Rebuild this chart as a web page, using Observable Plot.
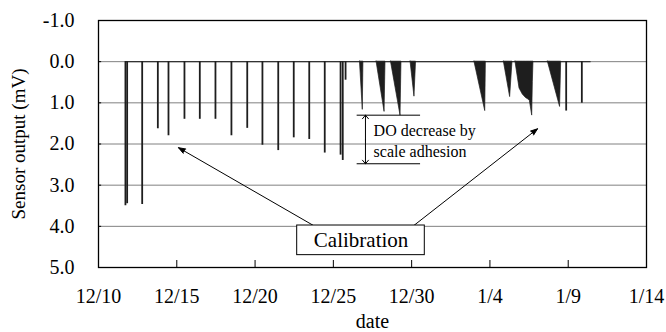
<!DOCTYPE html>
<html>
<head>
<meta charset="utf-8">
<script src="https://cdn.jsdelivr.net/npm/d3@7"></script>
<script src="https://cdn.jsdelivr.net/npm/@observablehq/plot@0.6"></script>
<style>
  body { margin: 0; background: #fff; }
  #chart svg { display: block; }
</style>
</head>
<body>
<div id="chart"></div>
<script>
// ---- data (days after 12/10) ----
const xTickDays = [0, 5, 10, 15, 20, 25, 30, 35];
const xTickLabels = ["12/10", "12/15", "12/20", "12/25", "12/30", "1/4", "1/9", "1/14"];
const yTicks = [-1, 0, 1, 2, 3, 4, 5];
const yTickLabels = ["-1.0", "0.0", "1.0", "2.0", "3.0", "4.0", "5.0"];

// single calibration spikes
const spikeDay   = [1.72, 1.83, 2.79, 3.79, 4.47, 5.49, 6.47, 7.47, 8.49, 9.50, 10.47, 11.48, 12.47, 13.46, 14.45, 15.46, 15.60, 15.78, 29.87, 30.87];
const spikeValue = [3.50, 3.45, 3.47, 1.63, 1.80, 1.40, 1.40, 1.40, 1.80, 1.62, 2.03, 2.16, 1.85, 1.89, 2.22, 2.27, 2.40, 0.45, 1.20, 1.01];

// dense drift segments (outline vertices)
const wedgeId    = [1,1,1, 2,2,2, 3,3,3, 4,4,4, 5,5,5, 6,6,6, 7,7,7,7,7,7,7,7,7, 8,8,8];
const wedgeDay   = [16.70,16.88,16.92, 17.76,18.27,18.33, 18.68,19.29,19.35, 19.93,20.18,20.28,
                    24.01,24.70,24.74, 25.89,26.29,26.44,
                    26.63,26.89,27.10,27.30,27.46,27.55,27.70,27.74,27.78,
                    28.70,29.48,29.55];
const wedgeValue = [0,1.17,0, 0,1.22,0, 0,1.31,0, 0,0.85,0,
                    0,1.20,0, 0,0.86,0,
                    0,0.65,0.80,0.88,0.92,0.95,1.31,0.50,0,
                    0,1.10,0];

// record baseline extent
const baseDay = [1.72, 31.4];
const baseValue = [0, 0];

// ---- tables ----
const spikes = spikeDay.map((d, i) => ({day: d, value: spikeValue[i]}));
const wedges = wedgeDay.map((d, i) => ({id: wedgeId[i], day: d, value: wedgeValue[i]}));
const base = baseDay.map((d, i) => ({day: d, value: baseValue[i]}));

const ink = "#1e1e1e";
const serif = "Liberation Serif, Times New Roman, serif";

const chart = Plot.plot({
  width: 666,
  height: 332,
  marginLeft: 98,
  marginRight: 20,
  marginTop: 20,
  marginBottom: 65,
  style: {fontFamily: serif, background: "#fff", color: "#000"},
  x: {domain: [0, 35]},
  y: {domain: [-1, 5], reverse: true},
  marks: [
    Plot.ruleY([0, 1, 2, 3, 4], {stroke: "#808080", strokeWidth: 1}),
    Plot.line(base, {x: "day", y: "value", stroke: "#333", strokeWidth: 1.2}),
    Plot.area(wedges, {x1: "day", y1: 0, y2: "value", z: "id", fill: ink, stroke: ink, strokeWidth: 0.7, curve: "linear"}),
    Plot.ruleX(spikes, {x: "day", y1: 0, y2: "value", stroke: ink, strokeWidth: 1.8}),
    // inside ticks
    Plot.ruleX(xTickDays, {y1: 5, y2: 4.83, stroke: "#000", strokeWidth: 1}),
    Plot.ruleY(yTicks, {x1: 0, x2: 0.2, stroke: "#000", strokeWidth: 1}),
    Plot.axisX({ticks: xTickDays, tickFormat: (d, i) => xTickLabels[i], tickSize: 0, tickPadding: 21, fontSize: 20, fontFamily: serif, label: null}),
    Plot.axisY({ticks: yTicks, tickFormat: (d, i) => yTickLabels[i], tickSize: 0, tickPadding: 24, fontSize: 20, fontFamily: serif, label: null}),
    Plot.frame({stroke: "#000", strokeWidth: 1.3}),
    // DO decrease bracket
    Plot.ruleY([1.30, 2.48], {x1: 16.52, x2: 20.57, stroke: "#000", strokeWidth: 1}),
    Plot.arrow([0], {x1: 17.05, y1: 1.9, x2: 17.05, y2: 1.30, stroke: "#000", strokeWidth: 1, headLength: 7, headAngle: 80}),
    Plot.arrow([0], {x1: 17.05, y1: 1.9, x2: 17.05, y2: 2.48, stroke: "#000", strokeWidth: 1, headLength: 7, headAngle: 80}),
    Plot.text(["DO decrease by"], {x: 17.57, y: 1.68, textAnchor: "start", fontSize: 16, fontFamily: serif, fill: "#000"}),
    Plot.text(["scale adhesion"], {x: 17.57, y: 2.19, textAnchor: "start", fontSize: 16, fontFamily: serif, fill: "#000"}),
    // Calibration arrows and box
    Plot.arrow([0], {x1: 13.73, y1: 3.98, x2: 5.11, y2: 2.09, stroke: "#000", fill: "#000", strokeWidth: 1, headLength: 11, headAngle: 40}),
    Plot.arrow([0], {x1: 20.14, y1: 3.98, x2: 28.04, y2: 1.63, stroke: "#000", fill: "#000", strokeWidth: 1, headLength: 11, headAngle: 40}),
    Plot.rect([0], {x1: 12.69, x2: 20.84, y1: 3.98, y2: 4.70, fill: "#fff", stroke: "#000", strokeWidth: 1}),
    Plot.text(["Calibration"], {x: 16.77, y: 4.34, fontSize: 21, fontFamily: serif, fill: "#000"}),
    // axis titles
    Plot.text(["Sensor output (mV)"], {frameAnchor: "left", textAnchor: "middle", lineAnchor: "middle", dx: -80, rotate: -90, fontSize: 19, fontFamily: serif, fill: "#000"}),
    Plot.text(["date"], {frameAnchor: "bottom", lineAnchor: "middle", dy: 54, fontSize: 20, fontFamily: serif, fill: "#000"})
  ]
});
document.getElementById("chart").append(chart);
</script>
</body>
</html>
